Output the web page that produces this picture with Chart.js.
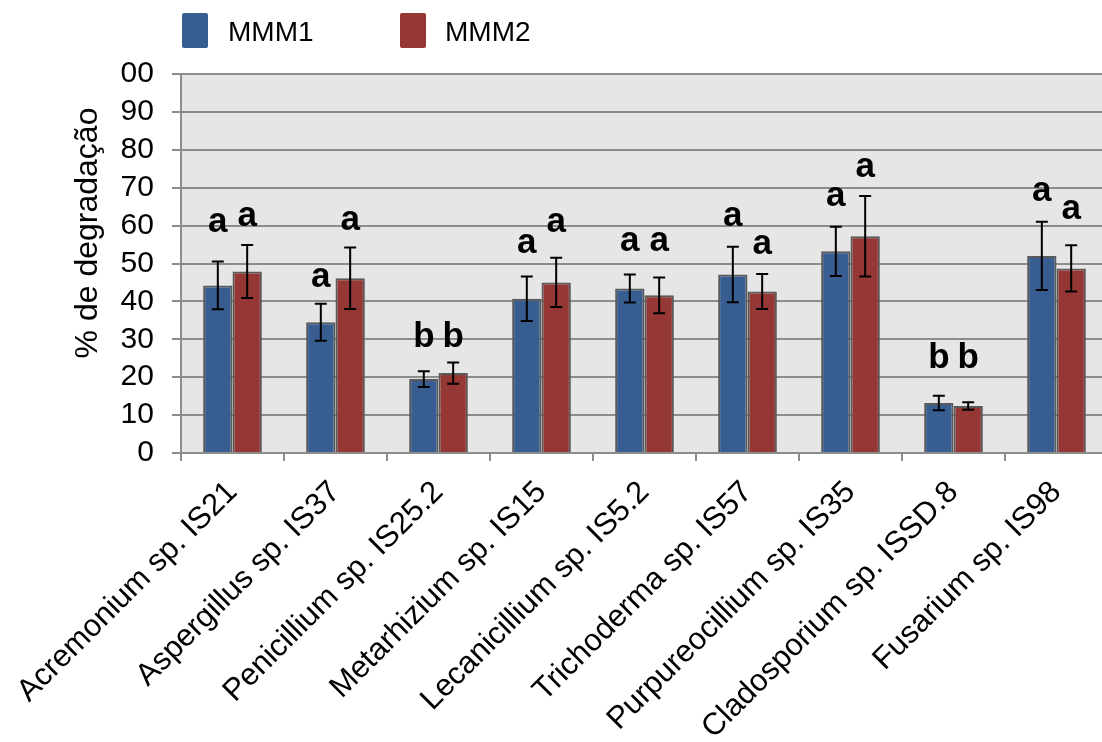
<!DOCTYPE html>
<html>
<head>
<meta charset="utf-8">
<script src="https://cdn.jsdelivr.net/npm/chart.js@4/dist/chart.umd.min.js"></script>
<style>
  body { margin: 0; background: #fff; overflow: hidden; font-family: "Liberation Sans", Arial, sans-serif; }
  #wrap { position: relative; width: 1102px; height: 742px; overflow: hidden; }
  #chart { position: absolute; left: 0; top: 0; }
  .legend-box { position: absolute; top: 13px; width: 26px; height: 35px; border-radius: 2px; }
  .legend-text { position: absolute; top: 13px; font-size: 28px; line-height: 38px; color: #000; }
</style>
</head>
<body>
<div id="wrap">
  <canvas id="chart" width="1130" height="742"></canvas>
  <div class="legend-box" style="left:182px;background:#385E91;"></div>
  <div class="legend-text" style="left:228px;">MMM1</div>
  <div class="legend-box" style="left:400px;background:#953735;"></div>
  <div class="legend-text" style="left:445px;">MMM2</div>
</div>
<script>
// valores
const categories = [
  "Acremonium sp. IS21",
  "Aspergillus sp. IS37",
  "Penicillium sp. IS25.2",
  "Metarhizium sp. IS15",
  "Lecanicillium sp. IS5.2",
  "Trichoderma sp. IS57",
  "Purpureocillium sp. IS35",
  "Cladosporium sp. ISSD.8",
  "Fusarium sp. IS98",
];
const mmm1 = [44.2, 34.5, 19.5, 40.7, 43.4, 47.1, 53.2, 13.2, 52.0];
const err1 = [6.3, 4.9, 2.1, 5.9, 3.7, 7.3, 6.5, 1.9, 9.0];
const mmm2 = [47.9, 46.1, 21.1, 45.0, 41.6, 42.6, 57.2, 12.4, 48.7];
const err2 = [7.0, 8.1, 2.8, 6.5, 4.7, 4.6, 10.6, 1.0, 6.1];
const letters1 = ["a", "a", "b", "a", "a", "a", "a", "b", "a"];
const letters2 = ["a", "a", "b", "a", "a", "a", "a", "b", "a"];
// altura (em %) da base de cada letra
const letterAt1 = [58.2, 43.9, 28.0, 52.7, 53.2, 60.0, 65.3, 22.3, 66.4];
const letterAt2 = [60.0, 58.9, 28.0, 58.2, 53.2, 52.6, 72.9, 22.3, 61.8];
const yTicks = [0, 10, 20, 30, 40, 50, 60, 70, 80, 90, 100];
const yTitle = "% de degradação";

const errors = [err1, err2];
const letters = [letters1, letters2];
const letterAt = [letterAt1, letterAt2];
const family = "'Liberation Sans', Arial, sans-serif";

const plotBackground = {
  id: "plotBackground",
  beforeDraw: (chart) => {
    const { ctx, chartArea } = chart;
    ctx.save();
    ctx.fillStyle = "#E6E6E6";
    ctx.fillRect(chartArea.left, chartArea.top, chartArea.right - chartArea.left, chartArea.bottom - chartArea.top);
    // título do eixo y (fica acima do centro no original)
    ctx.fillStyle = "#000";
    ctx.font = `32px ${family}`;
    ctx.textAlign = "center";
    ctx.textBaseline = "middle";
    ctx.translate(88, 233);
    ctx.rotate(-Math.PI / 2);
    ctx.fillText(yTitle, 0, 0);
    ctx.restore();
  },
};

const errorBars = {
  id: "errorBars",
  afterDatasetsDraw: (chart) => {
    const { ctx } = chart;
    const y = chart.scales.y;
    ctx.save();
    ctx.strokeStyle = "#000";
    ctx.lineWidth = 2;
    chart.data.datasets.forEach((ds, i) => {
      chart.getDatasetMeta(i).data.forEach((bar, j) => {
        const top = y.getPixelForValue(ds.data[j] + errors[i][j]);
        const bottom = y.getPixelForValue(ds.data[j] - errors[i][j]);
        ctx.beginPath();
        ctx.moveTo(bar.x, top);
        ctx.lineTo(bar.x, bottom);
        ctx.moveTo(bar.x - 6, top);
        ctx.lineTo(bar.x + 6, top);
        ctx.moveTo(bar.x - 6, bottom);
        ctx.lineTo(bar.x + 6, bottom);
        ctx.stroke();
      });
    });
    // letras de significância
    ctx.fillStyle = "#000";
    ctx.font = `bold 35px ${family}`;
    ctx.textAlign = "center";
    ctx.textBaseline = "alphabetic";
    chart.data.datasets.forEach((ds, i) => {
      chart.getDatasetMeta(i).data.forEach((bar, j) => {
        ctx.fillText(letters[i][j], bar.x, y.getPixelForValue(letterAt[i][j]));
      });
    });
    ctx.restore();
  },
};

new Chart(document.getElementById("chart"), {
  type: "bar",
  data: {
    labels: categories,
    datasets: [
      { label: "MMM1", data: mmm1, backgroundColor: "#385E91", borderColor: "#5A5A5A", borderWidth: 2 },
      { label: "MMM2", data: mmm2, backgroundColor: "#953735", borderColor: "#5A5A5A", borderWidth: 2 },
    ],
  },
  options: {
    responsive: false,
    devicePixelRatio: 1,
    animation: false,
    layout: { padding: { top: 74, right: 22, left: 0, bottom: 0 } },
    datasets: { bar: { categoryPercentage: 0.57, barPercentage: 1.0 } },
    plugins: { legend: { display: false }, tooltip: { enabled: false } },
    scales: {
      x: {
        grid: { offset: true, drawOnChartArea: false, drawTicks: true, tickLength: 8, color: "#8C8C8C", lineWidth: 2 },
        border: { color: "#8C8C8C", width: 2 },
        ticks: { font: { family: family, size: 31 }, color: "#000", minRotation: 45, maxRotation: 45, autoSkip: false, padding: 13 },
        afterFit: (scale) => { scale.height = 289; },
      },
      y: {
        min: 0,
        max: 100,
        afterBuildTicks: (scale) => { scale.ticks = yTicks.map((v) => ({ value: v })); },
        ticks: { font: { family: family, size: 30 }, color: "#000", padding: 18, autoSkip: false, callback: (v) => (v === 100 ? "00" : v) },
        grid: { color: "#8C8C8C", lineWidth: 2, tickLength: 9 },
        border: { color: "#8C8C8C", width: 2 },
        afterFit: (scale) => { scale.width = 179; },
      },
    },
  },
  plugins: [plotBackground, errorBars],
});
</script>
</body>
</html>
